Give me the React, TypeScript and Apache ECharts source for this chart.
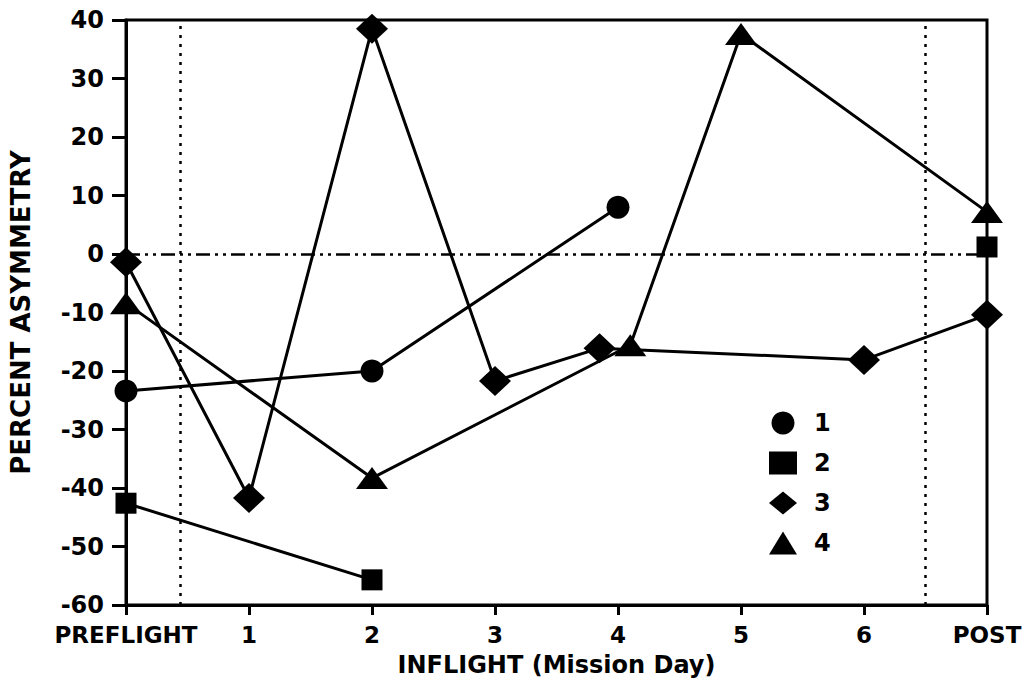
import React, { useEffect, useRef } from "react";
import * as echarts from "echarts";

const xTickLabels = ["PREFLIGHT", "1", "2", "3", "4", "5", "6", "POST"];
const seriesNames = ["1", "2", "3", "4"];

const circleX = [0, 2, 4];
const circleY = [-23.4, -20, 8];

const squareX = [0, 2, 4.5, 7];
const squareY: (number | null)[] = [-42.6, -55.7, null, 1.2];

const diamondX = [0, 1, 2, 3, 3.85, 6, 7];
const diamondY = [-1.4, -41.7, 38.5, -21.7, -16.1, -18.1, -10.4];

const triangleX = [0, 2, 4.1, 5, 7];
const triangleY = [-8.4, -38.3, -15.6, 37.6, 7.2];

const phaseDividers = [0.44, 6.5];
const baseline = 0;

const zip = (xs: number[], ys: (number | null)[]) =>
  xs.map((x, i) => [x, ys[i] === null ? "-" : ys[i]]);

export default function App() {
  const ref = useRef<HTMLDivElement>(null);
  useEffect(() => {
    if (!ref.current) return;
    const chart = echarts.init(ref.current, null, { renderer: "svg" });
    const font = "DejaVu Sans";
    const lineStyle = { color: "#000", width: 3 };
    const common = {
      type: "line" as const,
      lineStyle,
      itemStyle: { color: "#000" },
      z: 5,
    };
    chart.setOption({
      animation: false,
      backgroundColor: "#fff",
      grid: {
        left: 124,
        top: 20,
        width: 863,
        height: 585,
        show: true,
        borderColor: "#000",
        borderWidth: 3,
        backgroundColor: "transparent",
      },
      legend: {
        orient: "vertical",
        left: 764,
        top: 406,
        itemWidth: 28,
        itemHeight: 23,
        itemGap: 16,
        textStyle: { fontFamily: font, fontWeight: "bold", fontSize: 24, color: "#000", padding: [0, 0, 0, 12] },
        data: [
          { name: seriesNames[0], icon: "circle" },
          { name: seriesNames[1], icon: "rect" },
          { name: seriesNames[2], icon: "diamond" },
          { name: seriesNames[3], icon: "triangle" },
        ],
      },
      xAxis: {
        type: "value",
        min: 0,
        max: 7,
        interval: 1,
        splitLine: { show: false },
        axisLine: { show: true, onZero: false, lineStyle: { color: "#000", width: 3 } },
        axisTick: { show: true, inside: false, length: 10, lineStyle: { color: "#000", width: 3 } },
        axisLabel: {
          margin: 18,
          fontFamily: font,
          fontWeight: "bold",
          fontSize: 23,
          color: "#000",
          formatter: (v: number) => xTickLabels[Math.round(v)] ?? "",
        },
        name: "INFLIGHT (Mission Day)",
        nameLocation: "middle",
        nameGap: 48,
        nameTextStyle: { fontFamily: font, fontWeight: "bold", fontSize: 24, color: "#000" },
      },
      yAxis: {
        type: "value",
        min: -60,
        max: 40,
        interval: 10,
        splitLine: { show: false },
        axisLine: { show: true, onZero: false, lineStyle: { color: "#000", width: 3 } },
        axisTick: { show: true, inside: false, length: 14, lineStyle: { color: "#000", width: 3 } },
        axisLabel: {
          margin: 22,
          fontFamily: font,
          fontWeight: "bold",
          fontSize: 24,
          color: "#000",
        },
        name: "PERCENT ASYMMETRY",
        nameLocation: "middle",
        nameRotate: 90,
        nameGap: 92,
        nameTextStyle: { fontFamily: font, fontWeight: "bold", fontSize: 26, color: "#000" },
      },
      series: [
        {
          ...common,
          name: seriesNames[0],
          symbol: "circle",
          symbolSize: 23,
          data: zip(circleX, circleY),
          markLine: {
            silent: true,
            symbol: "none",
            label: { show: false },
            data: [
              ...phaseDividers.map((x) => ({
                xAxis: x,
                lineStyle: { color: "#000", width: 2.5, type: [3, 6] },
              })),
              {
                yAxis: baseline,
                lineStyle: { color: "#000", width: 2.5, type: [14, 5, 3, 5, 3, 5] },
              },
            ],
          },
        },
        {
          ...common,
          name: seriesNames[1],
          symbol: "rect",
          symbolSize: 21,
          connectNulls: false,
          data: zip(squareX, squareY),
        },
        {
          ...common,
          name: seriesNames[2],
          symbol: "diamond",
          symbolSize: [32, 30],
          data: zip(diamondX, diamondY),
        },
        {
          ...common,
          name: seriesNames[3],
          symbol: "triangle",
          symbolSize: [32, 22],
          data: zip(triangleX, triangleY),
        },
      ],
    });
    return () => chart.dispose();
  }, []);
  return (
    <div
      ref={ref}
      style={{ position: "absolute", left: 0, top: 0, width: 1029, height: 692 }}
    />
  );
}
